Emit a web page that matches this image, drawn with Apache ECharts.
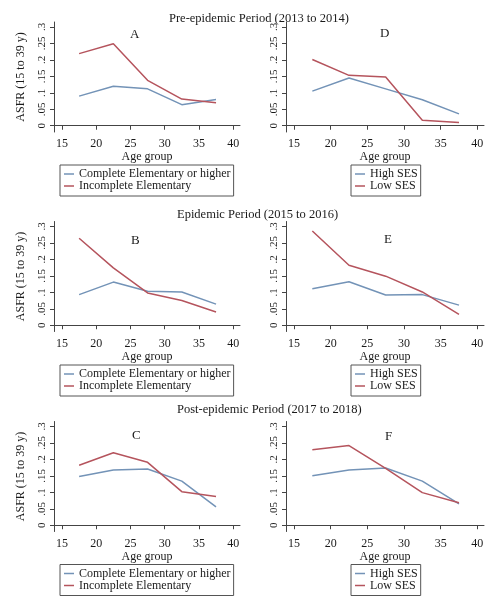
<!DOCTYPE html>
<html>
<head>
<meta charset="utf-8">
<script src="https://cdn.jsdelivr.net/npm/echarts@6/dist/echarts.min.js"></script>
<style>
html,body{margin:0;padding:0;background:#fff;}
#c{width:492px;height:603px;}
</style>
</head>
<body>
<div id="c"></div>
<script>
// Age group midpoints
var ages = [17.5, 22.5, 27.5, 32.5, 37.5];
var xTicks = [15, 20, 25, 30, 35, 40];
var yTicks = [0, 0.05, 0.1, 0.15, 0.2, 0.25, 0.3];
var yTickLabels = ['0', '.05', '.1', '.15', '.2', '.25', '.3'];

var periodTitles = ['Pre-epidemic Period (2013 to 2014)', 'Epidemic Period (2015 to 2016)', 'Post-epidemic Period (2017 to 2018)'];
var panelLetters = ['A', 'D', 'B', 'E', 'C', 'F'];
var eduNames = ['Complete Elementary or higher', 'Incomplete Elementary'];
var sesNames = ['High SES', 'Low SES'];

// Panel A (education, pre-epidemic)
var A_complete = [0.090, 0.120, 0.112, 0.064, 0.080];
var A_incomplete = [0.219, 0.249, 0.138, 0.081, 0.070];
// Panel D (SES, pre-epidemic)
var D_high = [0.105, 0.145, 0.112, 0.079, 0.036];
var D_low = [0.201, 0.153, 0.148, 0.017, 0.010];
// Panel B (education, epidemic)
var B_complete = [0.093, 0.131, 0.103, 0.101, 0.064];
var B_incomplete = [0.264, 0.174, 0.098, 0.075, 0.040];
// Panel E (SES, epidemic)
var E_high = [0.111, 0.132, 0.092, 0.093, 0.061];
var E_low = [0.286, 0.182, 0.149, 0.101, 0.033];
// Panel C (education, post-epidemic)
var C_complete = [0.148, 0.168, 0.171, 0.134, 0.056];
var C_incomplete = [0.182, 0.220, 0.191, 0.102, 0.087];
// Panel F (SES, post-epidemic)
var F_high = [0.150, 0.168, 0.174, 0.134, 0.065];
var F_low = [0.229, 0.242, 0.173, 0.099, 0.068];

var FONT = "'Liberation Serif', 'Times New Roman', serif";
var BLUE = '#7393b7';
var RED = '#b5545d';
var AXIS = '#444';
var TEXT = '#1a1a1a';

var panels = [
  {a: A_complete, b: A_incomplete, names: eduNames, left: true},
  {a: D_high, b: D_low, names: sesNames, left: false},
  {a: B_complete, b: B_incomplete, names: eduNames, left: true},
  {a: E_high, b: E_low, names: sesNames, left: false},
  {a: C_complete, b: C_incomplete, names: eduNames, left: true},
  {a: F_high, b: F_low, names: sesNames, left: false}
];

var rowTops = [22, 221.5, 421.5];
var titleTops = [7, 203, 398];
var titleLefts = [164, 172, 172];
var legendTops = [165, 365, 564.5];
var letterPos = [[125, 23], [375, 22], [126, 229], [379, 228], [127, 424], [380, 425]];

function zip(xs, ys) { return xs.map(function (x, i) { return [x, ys[i]]; }); }

var grids = [], xAxes = [], yAxes = [], series = [], legends = [], titles = [];

periodTitles.forEach(function (t, i) {
  titles.push({text: t, left: titleLefts[i], top: titleTops[i],
    textStyle: {fontFamily: FONT, fontSize: 12.5, fontWeight: 'normal', color: TEXT}});
});

panels.forEach(function (p, i) {
  var row = Math.floor(i / 2);
  var isLeft = p.left;
  grids.push({left: isLeft ? 54 : 286, top: rowTops[row], width: isLeft ? 186 : 198, height: 110});
  xAxes.push({
    type: 'value', gridIndex: i,
    min: isLeft ? 13.83 : 13.91, max: isLeft ? 41 : 40.91,
    name: 'Age group', nameLocation: 'middle', nameGap: 15,
    nameTextStyle: {fontFamily: FONT, fontSize: 12, color: TEXT},
    axisLine: {show: true, lineStyle: {color: AXIS, width: 1}},
    axisTick: {show: true, length: 4, customValues: xTicks, lineStyle: {color: AXIS}},
    axisLabel: {customValues: xTicks, fontFamily: FONT, fontSize: 12, color: TEXT, margin: 6},
    splitLine: {show: false}
  });
  yAxes.push({
    type: 'value', gridIndex: i,
    min: -0.019, max: 0.315,
    name: isLeft ? 'ASFR (15 to 39 y)' : '', nameLocation: 'middle', nameGap: 27,
    nameTextStyle: {fontFamily: FONT, fontSize: 12, color: TEXT},
    axisLine: {show: true, lineStyle: {color: AXIS, width: 1}},
    axisTick: {show: true, length: 4, customValues: yTicks, lineStyle: {color: AXIS}},
    axisLabel: {customValues: yTicks, rotate: 90, fontFamily: FONT, fontSize: 11, color: TEXT, margin: 6,
      formatter: function (v) {
        for (var k = 0; k < yTicks.length; k++) { if (Math.abs(yTicks[k] - v) < 1e-9) return yTickLabels[k]; }
        return '';
      }},
    splitLine: {show: false}
  });
  series.push({type: 'line', name: p.names[0], xAxisIndex: i, yAxisIndex: i, data: zip(ages, p.a),
    showSymbol: false, lineStyle: {color: BLUE, width: 1.5}, itemStyle: {color: BLUE}, animation: false});
  series.push({type: 'line', name: p.names[1], xAxisIndex: i, yAxisIndex: i, data: zip(ages, p.b),
    showSymbol: false, lineStyle: {color: RED, width: 1.5}, itemStyle: {color: RED}, animation: false});
  legends.push({
    data: p.names, orient: 'vertical',
    left: isLeft ? 60 : 351, top: legendTops[row],
    icon: 'rect', itemWidth: 10, itemHeight: 1.5, itemGap: 0,
    padding: [3, 3, 4, 4],
    borderColor: '#555', borderWidth: 1, backgroundColor: '#fff',
    textStyle: {fontFamily: FONT, fontSize: 12, color: TEXT, lineHeight: 12},
    selectedMode: false
  });
  titles.push({text: panelLetters[i], left: letterPos[i][0], top: letterPos[i][1],
    textStyle: {fontFamily: FONT, fontSize: 13, fontWeight: 'normal', color: TEXT}});
});

var chart = echarts.init(document.getElementById('c'), null, {renderer: 'canvas'});
chart.setOption({
  backgroundColor: '#fff',
  animation: false,
  title: titles,
  grid: grids,
  xAxis: xAxes,
  yAxis: yAxes,
  legend: legends,
  series: series
});
</script>
</body>
</html>
